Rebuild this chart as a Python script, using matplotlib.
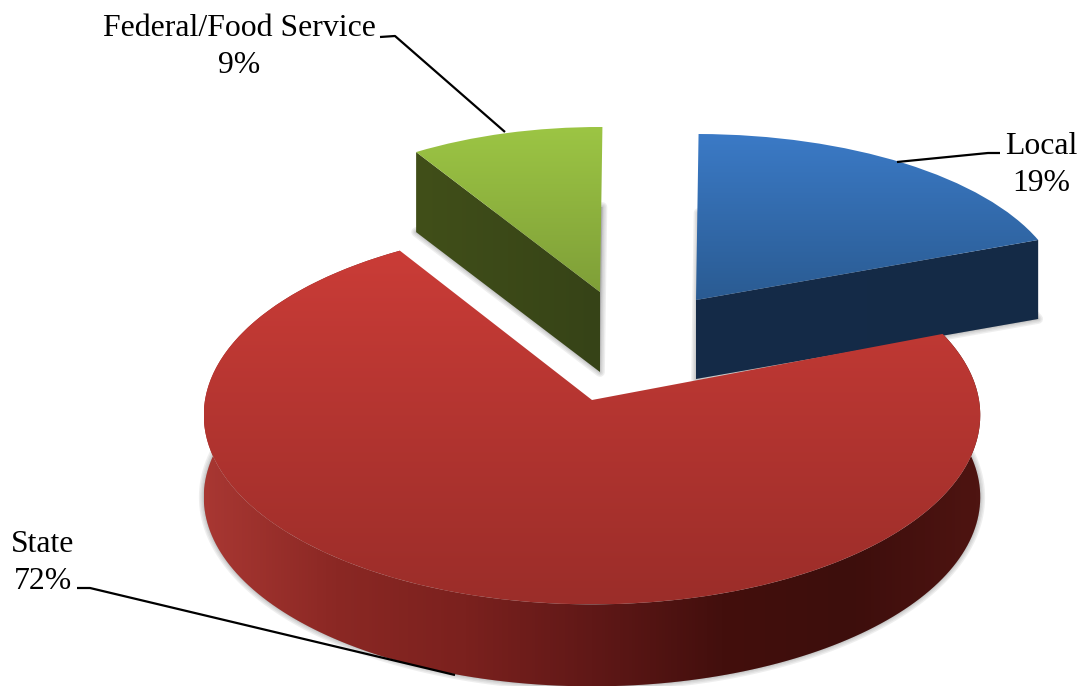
import numpy as np
import matplotlib
matplotlib.use('Agg')
import matplotlib.pyplot as plt
from matplotlib.colors import LinearSegmentedColormap
from matplotlib.patches import Polygon
from matplotlib.transforms import Transform

labels = ['State', 'Local', 'Federal/Food Service']
shares = [72, 19, 9]

plt.rcParams['font.family'] = ['Liberation Serif', 'DejaVu Serif']


class PieView(Transform):
    # tilted view of the unit circle, k shrinks the far side a bit
    input_dims = 2
    output_dims = 2
    is_separable = False
    has_inverse = False

    def __init__(self, cx, cy, a, b, k=0.0, drop=0.0):
        super().__init__()
        self.cx, self.cy, self.a, self.b, self.k, self.drop = cx, cy, a, b, k, drop

    def transform_non_affine(self, values):
        xy = np.asarray(values, dtype=float)
        w = 1 + self.k * xy[:, 1]
        return np.column_stack([self.cx + self.a * xy[:, 0] / w,
                                self.cy - self.b * xy[:, 1] / w + self.drop])

    def lowered(self, drop):
        return PieView(self.cx, self.cy, self.a, self.b, self.k, drop)


def rim(view, t1, t2, n=200):
    t = np.radians(np.linspace(t1, t2, n))
    return view.transform_non_affine(np.column_stack([np.cos(t), np.sin(t)]))


def shade(ax, patch, colors, horizontal=False, zorder=2):
    # gradient image clipped by the patch
    cmap = LinearSegmentedColormap.from_list('g', colors)
    ramp = np.linspace(0, 1, 256)
    ramp = ramp[None, :] if horizontal else ramp[:, None]
    ext = patch.get_window_extent()
    inv = ax.transData.inverted()
    (x0, y0), (x1, y1) = inv.transform([[ext.x0, ext.y0], [ext.x1, ext.y1]])
    im = ax.imshow(ramp, cmap=cmap, extent=(x0, x1, max(y0, y1), min(y0, y1)),
                   aspect='auto', zorder=zorder, interpolation='bilinear')
    im.set_clip_path(patch)


def soft_shadow(ax, pts):
    for lw in (1.5, 3, 5, 7):
        ax.add_patch(Polygon(pts, closed=True, fc='#8c8c8c', ec='#8c8c8c', lw=lw,
                             alpha=0.14, zorder=1, joinstyle='round'))


def limits(ax):
    ax.set_aspect('auto')
    ax.set_xlim(0, 1082)
    ax.set_ylim(686, 0)
    ax.axis('off')


fig = plt.figure(figsize=(10.82, 6.86), dpi=100)
ax = fig.add_axes([0, 0, 1, 1])

wedges, _ = ax.pie(shares, startangle=122, counterclock=True)
limits(ax)

views = [PieView(592, 400, 387, 188, k=0.08), PieView(696, 300, 367, 166), PieView(600, 292, 347, 165)]
drops = [82, 79, 80]
top_colors = [['#ca3c37', '#9b2d29'], ['#3b7ac6', '#2a5b92'], ['#9cc544', '#7f9f38']]
wall_colors = [
    ['#a83732', '#8b2824', '#7b211e', '#601817', '#430f0d', '#3d0e0c', '#4e1411'],
    ['#152b48', '#142a46'],
    ['#414f19', '#364317'],
]
# which edge of the wedge shows its cut face, None means the round side shows
cut_theta = [None, 'theta1', 'theta2']

for w, view, drop, tc, wc, cut in zip(wedges, views, drops, top_colors, wall_colors, cut_theta):
    low = view.lowered(drop)
    centre_low = low.transform_non_affine(np.array([[0.0, 0.0]]))
    foot = np.vstack([centre_low, rim(low, w.theta1, w.theta2)])
    soft_shadow(ax, foot)

    if cut is None:
        top = rim(view, w.theta1, w.theta2)
        bottom = rim(low, w.theta1, w.theta2)
        wall = np.vstack([top, bottom[::-1]])
    else:
        th = getattr(w, cut)
        edge = rim(view, th, th, n=1)
        apex = view.transform_non_affine(np.array([[0.0, 0.0]]))
        wall = np.vstack([apex, edge, edge + [0, drop], apex + [0, drop]])
    wall_patch = Polygon(wall, closed=True, fc='none', ec='none', zorder=2)
    ax.add_patch(wall_patch)
    shade(ax, wall_patch, wc, horizontal=True, zorder=2)

    w.set_transform(view + ax.transData)
    w.set_zorder(3)
    shade(ax, w, tc, zorder=3)
    w.set_visible(False)

leaders = [
    ([77, 90, 455], [588, 588, 675]),
    ([1000, 988, 897], [153, 153, 162]),
    ([380, 395, 505], [37, 36, 132]),
]
spots = [(43, 563), (1041, 165), (239, 47)]
for name, val, (lx, ly), (sx, sy) in zip(labels, shares, leaders, spots):
    ax.plot(lx, ly, color='black', lw=1.6, zorder=5, solid_capstyle='butt')
    ax.text(sx, sy, f'{name}\n{val}%', ha='center', va='center', fontsize=22.9,
            linespacing=1.36, color='black', zorder=6)

limits(ax)
fig.savefig('out.png', dpi=100)
